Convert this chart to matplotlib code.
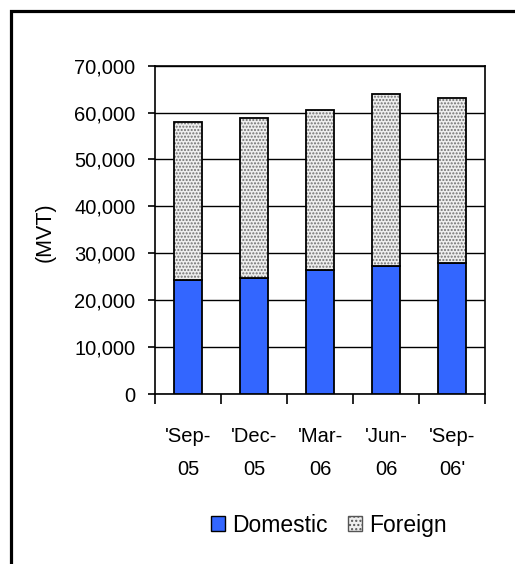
import matplotlib
matplotlib.use("Agg")
import matplotlib.pyplot as plt
from matplotlib.patches import Patch, Rectangle

plt.rcParams['font.family'] = ['Liberation Sans', 'DejaVu Sans']

quarters = ["'Sep-\n05", "'Dec-\n05", "'Mar-\n06", "'Jun-\n06", "'Sep-\n06'"]
domestic = [24200, 24700, 26500, 27350, 27900]
foreign = [33850, 34150, 34050, 36600, 35150]

fig = plt.figure(figsize=(5.15, 5.64), dpi=100)
ax = fig.add_axes([0.301, 0.3014, 0.641, 0.5822])

x = range(len(quarters))
w = 0.42
ax.bar(x, domestic, w, color='#3366ff', edgecolor='black', linewidth=1.3, zorder=3)
# dotted fill first, black outline on top
ax.bar(x, foreign, w, bottom=domestic, color='#eeeeee', edgecolor='#707070',
       hatch='.....', linewidth=0, zorder=3)
ax.bar(x, foreign, w, bottom=domestic, fill=False, edgecolor='black',
       linewidth=1.3, zorder=4)

ax.set_xlim(-0.5, len(quarters) - 0.5)
ax.set_ylim(0, 70000)
ax.set_yticks(range(0, 70001, 10000))
ax.set_yticklabels([f'{v:,}' for v in range(0, 70001, 10000)], fontsize=14.5)
ax.set_xticks(list(x))
ax.set_xticklabels(quarters, fontsize=14.5, linespacing=1.88)
ax.set_xticks([i - 0.5 for i in range(len(quarters) + 1)], minor=True)
ax.tick_params(axis='x', which='major', length=0, pad=24)
ax.tick_params(axis='x', which='minor', length=7, width=1.2, direction='out')
ax.tick_params(axis='y', length=5, width=1.2, direction='out', pad=9)
ax.set_ylabel('(MVT)', fontsize=15.5)
ax.yaxis.set_label_coords(-0.3, 0.494)

ax.grid(axis='y', color='black', linewidth=1.0, zorder=0)
for s in ax.spines.values():
    s.set_color('black')
    s.set_linewidth(1.2)

handles = [Patch(facecolor='#3366ff', edgecolor='black', linewidth=1),
           Patch(facecolor='#eeeeee', edgecolor='#555555', hatch='....', linewidth=1)]
fig.legend(handles, ['Domestic', 'Foreign'], loc='center', bbox_to_anchor=(0.638, 0.069),
           ncol=2, frameon=False, fontsize=16.5, handlelength=0.62, handleheight=0.62,
           handletextpad=0.3, columnspacing=0.9)

# chart border, only left and top edges fall inside the image
fig.add_artist(Rectangle((10.5 / 515, -0.05), 1.2, 1.05 - 10.5 / 564,
                         transform=fig.transFigure, fill=False,
                         edgecolor='black', linewidth=2.3))

fig.savefig('out.png', dpi=100)
